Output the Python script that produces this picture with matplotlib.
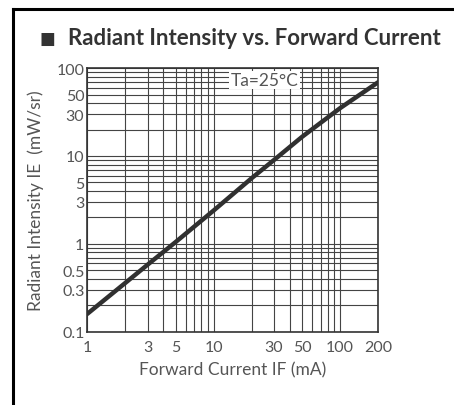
import numpy as np
import matplotlib.pyplot as plt
from matplotlib.ticker import FixedLocator, NullFormatter, LogLocator

# Datos
corriente_if = [1, 2, 3, 5, 10, 20, 30, 50, 100, 200]          # mA
intensidad_ie = [0.16, 0.36, 0.58, 1.05, 2.4, 5.6, 9.0, 16.5, 35, 69]  # mW/sr

xticks = [1, 3, 5, 10, 30, 50, 100, 200]
xtick_labels = ["1", "3", "5", "10", "30", "50", "100", "200"]
yticks = [0.1, 0.3, 0.5, 1, 3, 5, 10, 30, 50, 100]
ytick_labels = ["0.1", "0.3", "0.5", "1", "3", "5", "10", "30", "50", "100"]

gris = "#555555"
plt.rcParams["font.family"] = ["Lato", "DejaVu Sans"]

fig = plt.figure(figsize=(4.54, 4.06), dpi=100)
fig.patch.set_facecolor("white")

# Marco de la tabla (arriba e izquierda)
fig.add_artist(plt.Line2D([0.029, 1.0], [0.975, 0.975], color="black", lw=2.2))
fig.add_artist(plt.Line2D([0.029, 0.029], [0.0, 0.975], color="black", lw=2.2))

# Titulo
fig.text(0.088, 0.905, "\u25A0", fontsize=12, color="#333333", va="center", ha="left",
         family="DejaVu Sans")
fig.text(0.150, 0.905, "Radiant Intensity vs. Forward Current", fontsize=16,
         color="#333333", va="center", ha="left", fontweight="bold")

ax = fig.add_axes([0.192, 0.180, 0.641, 0.650])
ax.set_xscale("log")
ax.set_yscale("log")
ax.set_xlim(1, 200)
ax.set_ylim(0.1, 100)

ax.plot(corriente_if, intensidad_ie, color="#303030", linewidth=3.2, solid_capstyle="round", zorder=3)

# Rejilla logaritmica completa
ax.xaxis.set_minor_locator(LogLocator(base=10, subs=np.arange(2, 10)))
ax.yaxis.set_minor_locator(LogLocator(base=10, subs=np.arange(2, 10)))
ax.xaxis.set_minor_formatter(NullFormatter())
ax.yaxis.set_minor_formatter(NullFormatter())
ax.grid(True, which="both", color="#444444", linewidth=0.8)
ax.set_axisbelow(True)

ax.xaxis.set_major_locator(FixedLocator(xticks))
ax.set_xticklabels(xtick_labels)
ax.yaxis.set_major_locator(FixedLocator(yticks))
ax.set_yticklabels(ytick_labels)
ax.tick_params(which="both", length=0, labelsize=11.5, labelcolor=gris)
ax.tick_params(axis="x", pad=6)
ax.tick_params(axis="y", pad=2)

for s in ax.spines.values():
    s.set_color("#333333")
    s.set_linewidth(1.2)

ax.text(0.61, 0.985, "Ta=25°C", transform=ax.transAxes, fontsize=12.5, color=gris,
        ha="center", va="top",
        bbox=dict(facecolor="white", edgecolor="none", pad=1.0), zorder=4)

ax.set_xlabel("Forward Current IF (mA)", fontsize=12.5, color=gris, labelpad=5)
ax.set_ylabel("Radiant Intensity IE  (mW/sr)", fontsize=12.5, color=gris, labelpad=9)

fig.savefig("out.png", dpi=100, facecolor="white")
